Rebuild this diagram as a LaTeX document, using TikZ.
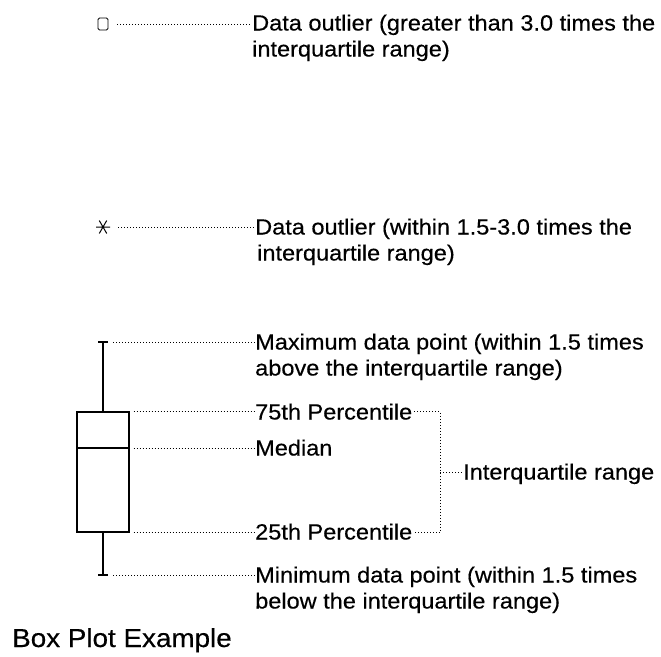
\documentclass[tikz,border=0pt]{standalone}
\usepackage{fontspec}
\setmainfont[FakeStretch=1.07,FakeBold=0.4]{Liberation Sans}
\begin{document}
\begin{tikzpicture}[x=1pt,y=-1pt,
  lbl/.style={font=\fontsize{22}{26}\selectfont, inner sep=0pt, anchor=base west},
  title/.style={font=\fontsize{26}{30}\selectfont, inner sep=0pt, anchor=base west},
  dotline/.style={line width=0.8pt, dash pattern=on 0.8pt off 2.2pt},
  plotline/.style={line width=1.1pt},
  outsq/.style={draw, line width=0.9pt, rounded corners=1.5pt, minimum width=10pt, minimum height=12pt, inner sep=0pt},
  boxshape/.style={draw, line width=1.1pt, minimum width=52pt, minimum height=120pt, inner sep=0pt}]
\useasboundingbox (0,0) rectangle (661,656);

% outlier square
\node[outsq] (sq) at (103,24) {};
\node[lbl] (t1) at (252,30.5) {Data outlier (greater than 3.0 times the};
\node[lbl] (t1b) at (252,56.5) {interquartile range)};
\draw[dotline] ([xshift=9pt]sq.east) -- (sq.east -| t1.west);

% outlier asterisk
\coordinate (ast) at (103,227);
\draw[line width=1pt] (ast) +(-7,0) -- +(7,0) (ast) +(60:7.5) -- +(240:7.5) (ast) +(120:7.5) -- +(300:7.5);
\node[lbl] (t2) at (255,234.5) {Data outlier (within 1.5-3.0 times the};
\node[lbl] (t2b) at (257,260.5) {interquartile range)};
\draw[dotline] ([xshift=15pt]ast) -- (ast -| t2.west);

% box plot
\coordinate (wt) at (103,342);
\coordinate (wb) at (103,575);
\coordinate (med) at (103,448);
\node[boxshape] (box) at (103,472) {};
\draw[plotline] (med -| box.west) -- (med -| box.east);
\draw[plotline] (wt) -- (box.north);
\draw[plotline] (box.south) -- (wb);
\draw[plotline] ([xshift=-5pt]wt) -- ([xshift=5pt]wt);
\draw[plotline] ([xshift=-5pt]wb) -- ([xshift=5pt]wb);

% labels
\node[lbl] (maxt) at (255,349.5) {Maximum data point (within 1.5 times};
\node[lbl] (maxtb) at (255,375.5) {above the interquartile range)};
\node[lbl] (q3t) at (255,419.5) {75th Percentile};
\node[lbl] (medt) at (255,455.5) {Median};
\node[lbl] (q1t) at (255,539.5) {25th Percentile};
\node[lbl] (mint) at (255,582.5) {Minimum data point (within 1.5 times};
\node[lbl] (mintb) at (255,608.5) {below the interquartile range)};
\node[lbl] (iqrt) at (463,479.5) {Interquartile range};

\draw[dotline] ([xshift=10pt]wt) -- (wt -| maxt.west);
\draw[dotline] ([xshift=4pt]box.north east) -- (box.north east -| q3t.west);
\draw[dotline] ([xshift=4pt]med -| box.east) -- (med -| medt.west);
\draw[dotline] ([xshift=4pt]box.south east) -- (box.south east -| q1t.west);
\draw[dotline] ([xshift=10pt]wb) -- (wb -| mint.west);

% bracket
\coordinate (iqr) at (440,472);
\draw[dotline] ([xshift=2pt]q3t.east |- box.north east) -| (iqr) |- ([xshift=2pt]q1t.east |- box.south east);
\draw[dotline] (iqr) -- (iqr -| iqrt.west);

\node[title] (ttl) at (12,647) {Box Plot Example};
\end{tikzpicture}
\end{document}
